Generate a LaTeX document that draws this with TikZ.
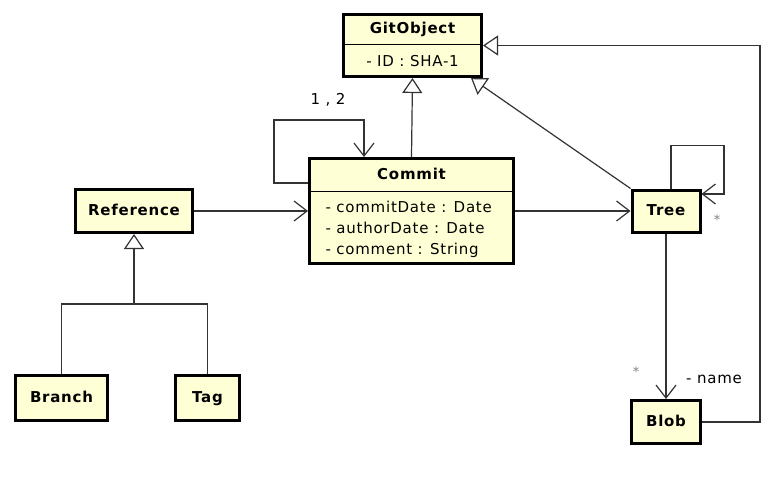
\documentclass[tikz,border=0pt]{standalone}
\usepackage{fontspec}
\setmainfont{DejaVu Sans}[LetterSpace=5]
\usetikzlibrary{positioning,arrows.meta}
\definecolor{classfill}{HTML}{FFFFD6}
\definecolor{linegray}{HTML}{333333}

\begin{document}
\begin{tikzpicture}[x=1pt, y=-1pt, font=\fontsize{15}{21}\selectfont,
	class/.style={draw=black, line width=3pt, fill=classfill, inner sep=0pt},
	title/.style={font=\fontsize{15}{21}\selectfont\bfseries, text height=11pt, text depth=3pt},
	assoc/.style={draw=linegray, line width=1.2pt, -{Straight Barb[length=13pt,width=20pt,line width=1.2pt]}},
	gen/.style={draw=linegray, line width=1.2pt, -{Triangle[open,fill=white,length=15pt,width=20pt,line width=1.2pt]}},
	mult/.style={text=gray, font=\fontsize{13}{13}\selectfont}]
		\useasboundingbox (0,0) rectangle (775,483);
		% classes
		\node[class, minimum width=138pt, minimum height=62pt] (gitobject) at (412.5,45.5) {};
		\node[title] (gitobject name) at (412.5,29) {GitObject};
		\draw[line width=1pt] ([yshift=-31pt]gitobject.north west) -- ([yshift=-31pt]gitobject.north east);
		\node (gitobject attr) at (412.5,61) {- ID : SHA-1};
		\node[class, minimum width=204pt, minimum height=105pt] (commit) at (411.5,211) {};
		\node[title] (commit name) at (411.5,175) {Commit};
		\draw[line width=1pt] ([yshift=-34pt]commit.north west) -- ([yshift=-34pt]commit.north east);
		\node[align=left, anchor=west] (commit attr) at (322,229) {- commitDate : Date\\- authorDate : Date\\- comment : String};
		\node[class, title, minimum width=117pt, minimum height=43pt] (reference) at (134,211) {Reference};
		\node[class, title, minimum width=68pt, minimum height=42pt] (tree) at (666,211) {Tree};
		\node[class, title, minimum width=69pt, minimum height=43pt] (blob) at (666,422) {Blob};
		\node[class, title, minimum width=92pt, minimum height=45pt] (branch) at (61.5,398) {Branch};
		\node[class, title, minimum width=64pt, minimum height=45pt] (tag) at (207.5,398) {Tag};
		\coordinate (split) at (134,304);
		% generalizations
		\draw[gen] (commit.north) -- (gitobject.south);
		\draw[gen] (tree.north west) -- ([xshift=-12pt]gitobject.south east);
		\draw[gen] (blob.east) -- ++(58,0) |- (gitobject.east);
		\draw[gen] (branch.north) |- (split) -- (reference.south);
		\draw[draw=linegray, line width=1.2pt] (tag.north) |- (split);
		% associations
		\draw[assoc] ([yshift=28pt]commit.west) -| ++(-34,-63) -| ([xshift=-47.5pt]commit.north);
		\node (commit loop) at (328,100) {1 , 2};
		\draw[assoc] (reference) -- (commit);
		\draw[assoc] (commit) -- (tree);
		\draw[assoc] ([xshift=5pt]tree.north) |- ++(53,-43) |- ([yshift=17pt]tree.east);
		\node[mult] (tree loop) at (717,220) {*};
		\draw[assoc] (tree) -- (blob);
		\node[mult] (blob mult) at (636,372) {*};
		\node (blob role) at (714,379) {- name};
\end{tikzpicture}
\end{document}
